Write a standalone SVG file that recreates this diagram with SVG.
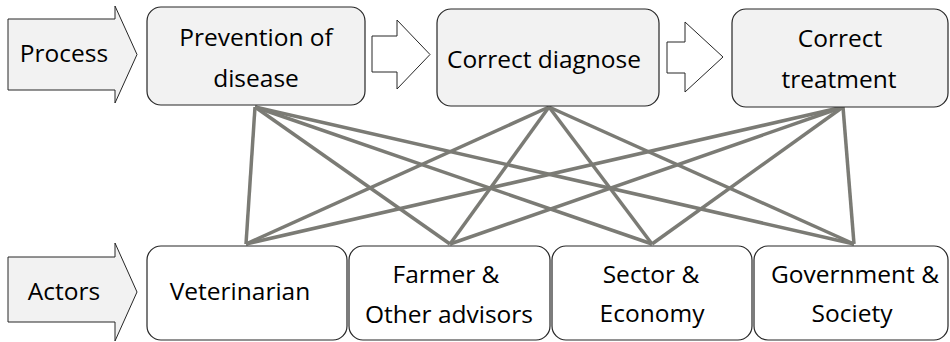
<svg xmlns="http://www.w3.org/2000/svg" width="950" height="342" viewBox="0 0 950 342">
<style>
.proc{fill:#f2f2f2;stroke:#262626;stroke-width:1.2}
.act{fill:#ffffff;stroke:#262626;stroke-width:1.2}
.arr{fill:#f2f2f2;stroke:#262626;stroke-width:1}
.arrw{fill:#ffffff;stroke:#262626;stroke-width:1}
text{font-family:"Open Sans","Noto Sans","DejaVu Sans",sans-serif;font-size:24.5px;fill:#000;text-anchor:middle}
.conn line{stroke:#7b7b75;stroke-width:3.5}
</style>
<g id="process-label">
<polygon class="arr" points="8,19 115,19 115,6 137,54.5 115,103 115,90 8,90"/>
<text x="64" y="62">Process</text>
</g>
<g id="actors-label">
<polygon class="arr" points="8,257 115,257 115,243 137,292 115,341 115,322 8,322"/>
<text x="64" y="300">Actors</text>
</g>
<g id="step-arrow-1">
<polygon class="arrw" points="372,36 397,36 397,20 430,54.5 397,89 397,72 372,72"/>
</g>
<g id="step-arrow-2">
<polygon class="arrw" points="667,42 685,42 685,22 723,57 685,92 685,73 667,73"/>
</g>
<g class="conn" id="connectors">
<line x1="255" y1="107" x2="246" y2="244"/>
<line x1="255" y1="107" x2="450" y2="244"/>
<line x1="255" y1="107" x2="652" y2="244"/>
<line x1="255" y1="107" x2="854" y2="244"/>
<line x1="549" y1="107" x2="246" y2="244"/>
<line x1="549" y1="107" x2="450" y2="244"/>
<line x1="549" y1="107" x2="652" y2="244"/>
<line x1="549" y1="107" x2="854" y2="244"/>
<line x1="843" y1="107" x2="246" y2="244"/>
<line x1="843" y1="107" x2="450" y2="244"/>
<line x1="843" y1="107" x2="652" y2="244"/>
<line x1="843" y1="107" x2="854" y2="244"/>
</g>
<g id="prevention">
<rect class="proc" x="147" y="7" width="218" height="98" rx="14"/>
<text x="256" y="46">Prevention of</text>
<text x="256" y="87">disease</text>
</g>
<g id="diagnose">
<rect class="proc" x="437" y="9" width="222" height="97" rx="14"/>
<text x="544" y="68">Correct diagnose</text>
</g>
<g id="treatment">
<rect class="proc" x="732" y="9" width="216" height="98" rx="14"/>
<text x="840" y="47">Correct</text>
<text x="839" y="88">treatment</text>
</g>
<g id="veterinarian">
<rect class="act" x="147" y="246" width="200" height="94" rx="14"/>
<text x="240" y="300">Veterinarian</text>
</g>
<g id="farmer">
<rect class="act" x="349" y="246" width="201" height="94" rx="14"/>
<text x="446" y="283">Farmer &amp;</text>
<text x="449" y="323">Other advisors</text>
</g>
<g id="sector">
<rect class="act" x="552" y="246" width="200" height="94" rx="14"/>
<text x="651" y="283">Sector &amp;</text>
<text x="652" y="322">Economy</text>
</g>
<g id="government">
<rect class="act" x="754" y="246" width="194" height="94" rx="14"/>
<text x="855" y="283">Government &amp;</text>
<text x="852" y="322">Society</text>
</g>
</svg>
